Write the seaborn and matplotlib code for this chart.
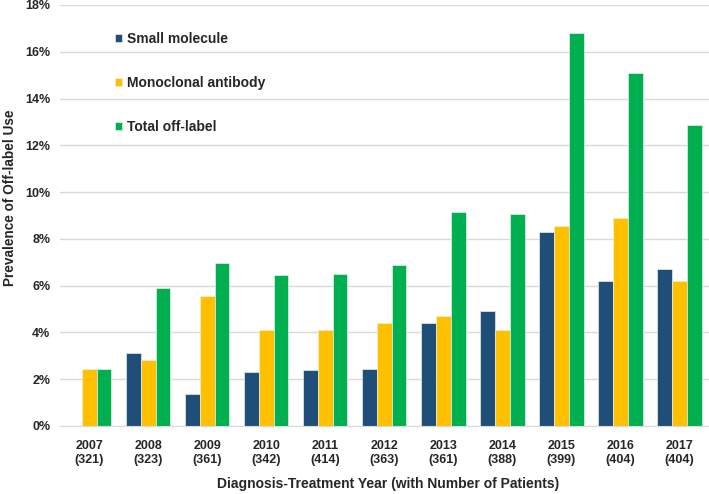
import matplotlib
matplotlib.use("Agg")
import matplotlib.pyplot as plt
import seaborn as sns
import pandas as pd
from matplotlib.ticker import PercentFormatter

# values (percent)
years = ['2007\n(321)', '2008\n(323)', '2009\n(361)', '2010\n(342)', '2011\n(414)', '2012\n(363)',
         '2013\n(361)', '2014\n(388)', '2015\n(399)', '2016\n(404)', '2017\n(404)']
small_molecule = [0.0, 3.1, 1.35, 2.3, 2.4, 2.45, 4.4, 4.9, 8.3, 6.2, 6.7]
monoclonal = [2.45, 2.8, 5.55, 4.1, 4.1, 4.4, 4.7, 4.1, 8.55, 8.9, 6.2]
total = [2.45, 5.9, 6.95, 6.45, 6.5, 6.9, 9.15, 9.05, 16.8, 15.1, 12.85]

series = ['Small molecule', 'Monoclonal antibody', 'Total off-label']
colors = ['#1F4E79', '#FFC000', '#00B050']

rows = []
for name, vals in zip(series, [small_molecule, monoclonal, total]):
    for y, v in zip(years, vals):
        rows.append({'year': y, 'series': name, 'value': v})
df = pd.DataFrame(rows)

sns.set_style('white')
plt.rcParams['font.family'] = ['Liberation Sans', 'DejaVu Sans']
plt.rcParams['font.weight'] = 'bold'

fig, ax = plt.subplots(figsize=(7.09, 4.94), dpi=100)
fig.subplots_adjust(left=0.0846, right=1.0, top=0.99, bottom=0.1377)

sns.barplot(data=df, x='year', y='value', hue='series', palette=colors,
            width=0.746, edgecolor='#e8f0e8', linewidth=0.5, ax=ax, saturation=1)

ax.set_ylim(0, 18)
ax.set_yticks(range(0, 19, 2))
ax.yaxis.set_major_formatter(PercentFormatter(decimals=0))
ax.set_xlim(-0.5, len(years) - 0.5)
ax.grid(axis='y', color='#d9d9d9', linewidth=1)
ax.set_axisbelow(True)
for s in ['top', 'right', 'left']:
    ax.spines[s].set_visible(False)
ax.spines['bottom'].set_color('#d9d9d9')
ax.tick_params(axis='y', length=0, labelsize=9, pad=7)
ax.tick_params(axis='x', length=0, labelsize=9, pad=10)
for lab in ax.get_xticklabels() + ax.get_yticklabels():
    lab.set_fontweight('bold')

ax.set_xlabel('Diagnosis-Treatment Year (with Number of Patients)', fontsize=10,
              fontweight='bold')
ax.set_ylabel('Prevalence of Off-label Use', fontsize=9.8, fontweight='bold')
ax.xaxis.set_label_coords(0.505, -0.121)
ax.yaxis.set_label_coords(-0.066, 0.543)

leg = ax.legend(loc='upper left', bbox_to_anchor=(0.085, 0.935), frameon=False,
                fontsize=10, handlelength=0.5, handleheight=0.5, handletextpad=0.35,
                labelspacing=2.15, borderpad=0, borderaxespad=0)
for t in leg.get_texts():
    t.set_fontweight('bold')

fig.savefig('out.png', dpi=100)
